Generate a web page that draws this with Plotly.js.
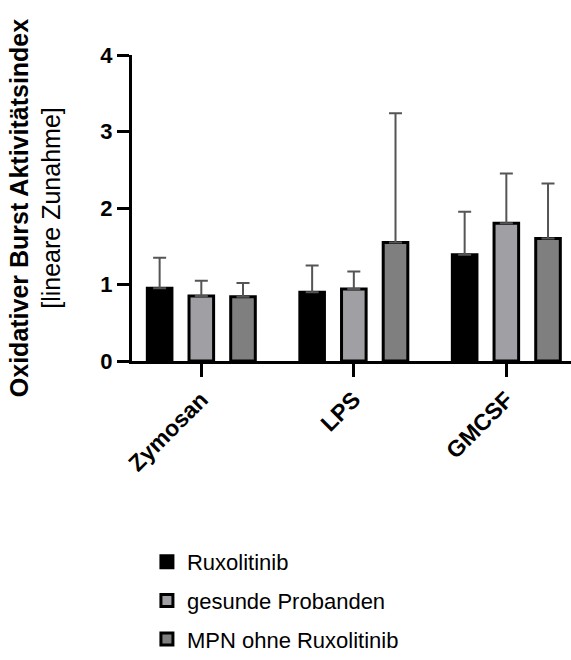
<!DOCTYPE html>
<html>
<head>
<meta charset="utf-8">
<script src="https://cdn.plot.ly/plotly-3.0.1.min.js"></script>
<style>html,body{margin:0;padding:0;background:#fff;}#chart{width:571px;height:660px;}</style>
</head>
<body>
<div id="chart"></div>
<script>
// Data
const categories = ["Zymosan", "LPS", "GMCSF"];
const seriesNames = ["Ruxolitinib", "gesunde Probanden", "MPN ohne Ruxolitinib"];
const ruxolitinibMean = [0.95, 0.90, 1.39];
const ruxolitinibSD   = [0.40, 0.35, 0.56];
const gesundeMean     = [0.85, 0.94, 1.80];
const gesundeSD       = [0.20, 0.23, 0.65];
const mpnMean         = [0.84, 1.55, 1.60];
const mpnSD           = [0.18, 1.69, 0.72];
const yTicks = [0, 1, 2, 3, 4];

const fills = ["#000000", "#a0a0a4", "#7f7f7f"];
const means = [ruxolitinibMean, gesundeMean, mpnMean];
const sds = [ruxolitinibSD, gesundeSD, mpnSD];
const font = "Liberation Sans, Arial, Helvetica, sans-serif";

const traces = seriesNames.map((name, i) => ({
  type: "bar",
  name: name,
  x: categories,
  y: means[i],
  legendgroup: "g" + i,
  marker: { color: fills[i], line: { color: "#000000", width: 3 } },
  error_y: {
    type: "data",
    symmetric: false,
    array: sds[i],
    arrayminus: sds[i].map(() => 0),
    color: "#555555",
    thickness: 2,
    width: 6.5
  }
}));

const layout = {
  width: 571,
  height: 660,
  margin: { l: 132, r: 0, t: 55, b: 290 },
  paper_bgcolor: "#ffffff",
  plot_bgcolor: "#ffffff",
  barmode: "group",
  bargap: 0.18,
  bargroupgap: 0.41,
  font: { family: font, color: "#000000" },
  xaxis: {
    type: "category",
    range: [-0.4545, 2.424],
    showline: true, linecolor: "#000000", linewidth: 3,
    ticks: "outside", ticklen: 13, tickwidth: 3, tickcolor: "#000000",
    tickangle: -45,
    tickfont: { family: font, size: 23, weight: "bold", color: "#000000" },
    showgrid: false, zeroline: false, fixedrange: true
  },
  yaxis: {
    range: [0, 4],
    tickvals: yTicks,
    ticktext: yTicks.map(String),
    showline: true, linecolor: "#000000", linewidth: 3,
    ticks: "outside", ticklen: 12, tickwidth: 3, tickcolor: "#000000",
    tickfont: { family: font, size: 22, weight: "bold", color: "#000000" },
    showgrid: false, zeroline: false, fixedrange: true,
    title: {
      text: "<b>Oxidativer Burst Aktivitätsindex</b><br>[lineare Zunahme]",
      font: { family: font, size: 25, color: "#000000" },
      standoff: 33
    },
    automargin: false
  },
  showlegend: true,
  legend: {
    orientation: "v",
    x: 0.034,
    xanchor: "left",
    y: -0.59,
    yanchor: "top",
    font: { family: font, size: 22, color: "#000000" },
    tracegroupgap: 7,
    bgcolor: "rgba(0,0,0,0)"
  }
};

Plotly.newPlot("chart", traces, layout, { displayModeBar: false, staticPlot: true });
</script>
</body>
</html>
